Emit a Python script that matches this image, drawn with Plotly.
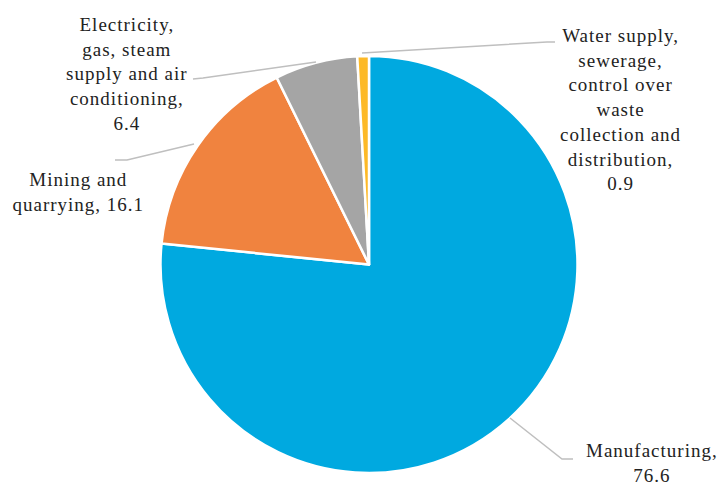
import plotly.graph_objects as go

W, H = 722, 485

categories = ["Manufacturing", "Mining and quarrying",
              "Electricity, gas, steam supply and air conditioning",
              "Water supply, sewerage, control over waste collection and distribution"]
values = [76.6, 16.1, 6.4, 0.9]
colors = ["#00A9E0", "#F0833F", "#A5A5A5", "#FDB927"]
label_texts = ["Manufacturing,<br>76.6",
               "Mining and<br>quarrying, 16.1",
               "Electricity,<br>gas, steam<br>supply and air<br>conditioning,<br>6.4",
               "Water supply,<br>sewerage,<br>control over<br>waste<br>collection and<br>distribution,<br>0.9"]
# label centre positions (pixels) and leader-line paths (pixels)
label_pos = [(652, 463), (78, 192), (127, 74), (621, 110)]
leaders = [[(510, 418), (562, 459), (573, 459)],
           [(194, 144), (127, 160), (115, 160)],
           [(316, 62), (203, 78), (193, 79)],
           [(362, 53), (547, 42), (555, 42)]]

def px(x, y):
    return x / W, 1 - y / H

fig = go.Figure(go.Pie(
    labels=categories, values=values, sort=False, direction="clockwise",
    rotation=0, textinfo="none", hoverinfo="label+value",
    marker=dict(colors=colors, line=dict(color="white", width=2.5)),
    domain=dict(x=[160 / W, 578 / W], y=[1 - 473 / H, 1 - 56 / H]),
    showlegend=False,
))

for (x, y), t in zip(label_pos, label_texts):
    ax, ay = px(x, y)
    fig.add_annotation(x=ax, y=ay, xref="paper", yref="paper", text=t,
                       showarrow=False, xanchor="center", yanchor="middle",
                       align="center",
                       font=dict(family="Liberation Serif, Times New Roman, serif",
                                 size=19, color="#222222"))

for pts in leaders:
    path = "M " + " L ".join(f"{px(x, y)[0]},{px(x, y)[1]}" for x, y in pts)
    fig.add_shape(type="path", path=path, xref="paper", yref="paper",
                  line=dict(color="#BFBFBF", width=1.5))

fig.update_layout(width=W, height=H, margin=dict(l=0, r=0, t=0, b=0),
                  paper_bgcolor="white", plot_bgcolor="white",
                  font=dict(family="Liberation Serif, Times New Roman, serif"))
fig.write_html("out.html", config={"displayModeBar": False},
               post_script=("document.body.style.margin='0';document.body.style.padding='0';"
                            "document.querySelectorAll('.annotation-text').forEach("
                            "function(e){e.style.letterSpacing='1px';});"))
